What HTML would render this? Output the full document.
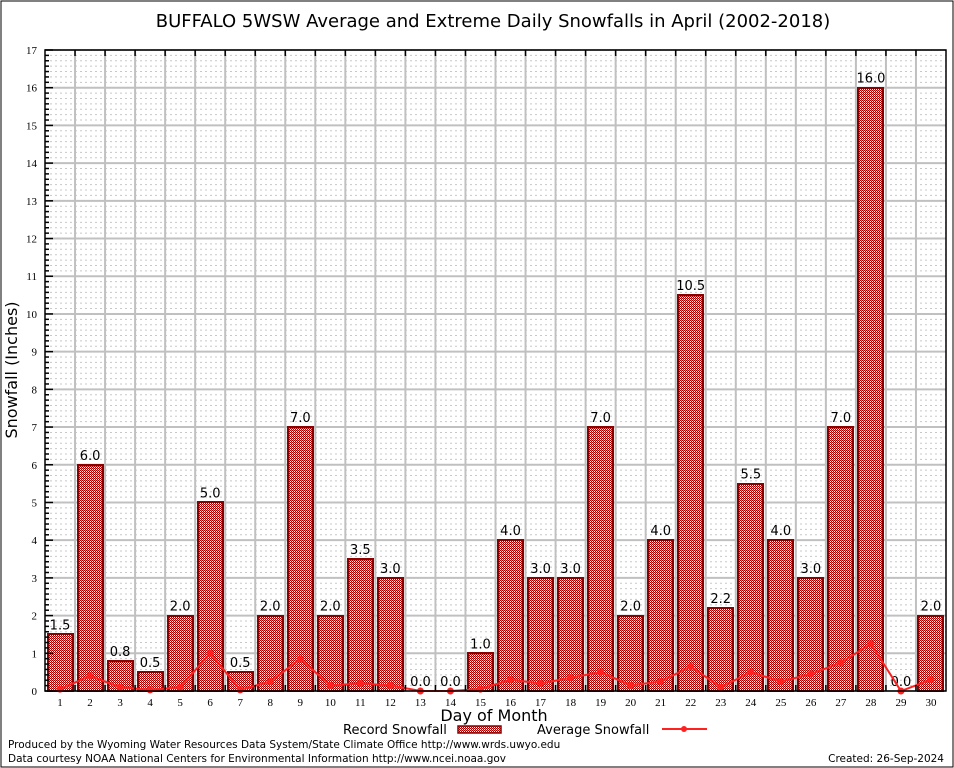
<!DOCTYPE html>
<html><head><meta charset="utf-8"><style>
body{margin:0;background:#fff;}
svg{display:block;font-family:"DejaVu Sans","Liberation Sans",sans-serif;}
</style></head><body>
<svg id="c" width="954" height="768" xmlns="http://www.w3.org/2000/svg">
<defs>
<pattern id="chk" width="2" height="2" patternUnits="userSpaceOnUse"><rect width="2" height="2" fill="#fff"/><rect width="1" height="1" fill="#a00000"/><rect x="1" y="1" width="1" height="1" fill="#a00000"/><rect x="1" y="0" width="1" height="1" fill="#e08080"/></pattern>
</defs>
<rect x="1" y="1" width="952" height="766" fill="#fff" stroke="#000"/>
<text x="493" y="27" font-size="18" text-anchor="middle">BUFFALO 5WSW Average and Extreme Daily Snowfalls in April (2002-2018)</text>
<g id="grid"></g><g id="bars" shape-rendering="crispEdges"></g><g id="line"></g><g id="axes"></g>
<text transform="translate(17,370) rotate(-90)" font-size="16" text-anchor="middle">Snowfall (Inches)</text>
<text x="494" y="721" font-size="16" text-anchor="middle">Day of Month</text>
<g>
<text x="343" y="734" font-size="13">Record Snowfall</text>
<rect x="458" y="726" width="43" height="7" fill="url(#chk)" stroke="#8b0000" stroke-width="1.5"/>
<text x="537" y="734" font-size="13">Average Snowfall</text>
<line x1="662" y1="729" x2="707" y2="729" stroke="#ff2020" stroke-width="2"/>
<circle cx="684" cy="729" r="3" fill="#ff2020"/>
</g>
<text x="8" y="748" font-size="10.5">Produced by the Wyoming Water Resources Data System/State Climate Office http://www.wrds.uwyo.edu</text>
<text x="8" y="762" font-size="10.5">Data courtesy NOAA National Centers for Environmental Information http://www.ncei.noaa.gov</text>
<text x="944" y="762" font-size="10.5" text-anchor="end">Created: 26-Sep-2024</text>
</svg>
<script>
const days=[1,2,3,4,5,6,7,8,9,10,11,12,13,14,15,16,17,18,19,20,21,22,23,24,25,26,27,28,29,30];
const recordVals=[1.5,6.0,0.8,0.5,2.0,5.0,0.5,2.0,7.0,2.0,3.5,3.0,0.0,0.0,1.0,4.0,3.0,3.0,7.0,2.0,4.0,10.5,2.2,5.5,4.0,3.0,7.0,16.0,0.0,2.0];
const avgVals=[0.05,0.4,0.1,0.03,0.1,1.0,0.03,0.25,0.85,0.15,0.2,0.15,0,0,0.05,0.3,0.2,0.35,0.5,0.15,0.25,0.65,0.1,0.5,0.25,0.45,0.75,1.25,0,0.3];
const yTicks=[0,1,2,3,4,5,6,7,8,9,10,11,12,13,14,15,16,17];
const NS="http://www.w3.org/2000/svg";
const X0=45,X1=946,Y0=691,Y1=50;
const xs=d=>X0+(d-0.5)*(X1-X0)/30;
const ys=v=>Y0-v*(Y0-Y1)/17;
function mk(t,a,p){const e=document.createElementNS(NS,t);for(const k in a)e.setAttribute(k,a[k]);p.appendChild(e);return e;}
const grid=document.getElementById('grid'),bars=document.getElementById('bars'),line=document.getElementById('line'),axes=document.getElementById('axes');
for(let k=1;k<17*7;k++){
 if(k%7===0)continue;
 const y=Y0-k*(Y0-Y1)/(17*7);
 const m=mk('line',{x1:X0,x2:X1,y1:y,y2:y,stroke:'#c8c8c8','stroke-width':1,'stroke-dasharray':'2,3'},grid);
 
 
 const mt=mk('line',{x1:X0,x2:X0+4,y1:y,y2:y,stroke:'#000','stroke-width':1.5},axes);
 
 
}
yTicks.forEach(v=>{
 const l=mk('line',{x1:X0,x2:X1,y1:ys(v),y2:ys(v),stroke:'#c0c0c0','stroke-width':2},grid);
 
 
 const t=mk('text',{x:X0-8,y:ys(v)+4,'font-size':11,'text-anchor':'end','font-family':'Liberation Serif,serif'},axes);
 t.textContent=v;
 
 
 const tk=mk('line',{x1:X0,x2:X0+8,y1:ys(v),y2:ys(v),stroke:'#000','stroke-width':1.5},axes);
 
 
});
for(let k=1;k<30;k++){
 const x=X0+k*(X1-X0)/30;
 const l=mk('line',{x1:x,x2:x,y1:Y1,y2:Y0,stroke:'#c0c0c0','stroke-width':2},grid);
 
 
 const tt=mk('line',{x1:x,x2:x,y1:Y1,y2:Y1+6,stroke:'#000','stroke-width':1.5},axes);
 
 
 const bt=mk('line',{x1:x,x2:x,y1:Y0,y2:Y0-6,stroke:'#000','stroke-width':1.5},axes);
 
 
}
const bw=25;
days.forEach((d,i)=>{
 const v=recordVals[i];
 const r=mk('rect',{x:Math.round(xs(d)-bw/2),y:Math.round(ys(v)),width:bw,height:Y0-Math.round(ys(v)),fill:'url(#chk)',stroke:'#8b0000','stroke-width':2},bars);
 
 
 const t=mk('text',{x:xs(d),y:ys(v)-5,'font-size':13,'text-anchor':'middle'},line);
 t.textContent=v.toFixed(1);
 
 
 const xt=mk('text',{x:xs(d),y:Y0+15,'font-size':11,'text-anchor':'middle','font-family':'Liberation Serif,serif'},axes);
 xt.textContent=d;
 
 
});
const pl=mk('polyline',{points:days.map((d,i)=>xs(d)+','+ys(avgVals[i])).join(' '),fill:'none',stroke:'#ff2020','stroke-width':2},line);


days.forEach((d,i)=>{
 const c=mk('circle',{cx:xs(d),cy:ys(avgVals[i]),r:3.5,fill:'#ff2020'},line);
 
 
});
const ax=mk('rect',{x:X0,y:Y1,width:X1-X0,height:Y0-Y1,fill:'none',stroke:'#000','stroke-width':1.5},axes);


</script>
</body></html>
